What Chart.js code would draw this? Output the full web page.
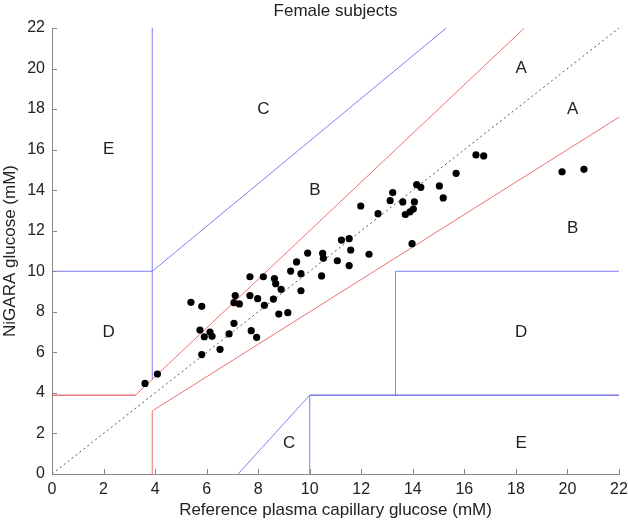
<!DOCTYPE html>
<html>
<head>
<meta charset="utf-8">
<script src="https://cdn.jsdelivr.net/npm/chart.js@4.4.1/dist/chart.umd.min.js"></script>
<style>
  html, body { margin: 0; padding: 0; background: #fff; }
  #wrap { width: 628px; height: 521px; }
</style>
</head>
<body>
<div id="wrap"><canvas id="egaChart" width="628" height="521"></canvas></div>
<script>
// measured points (reference vs NiGARA), mM
const refGlucose = [3.61, 4.09, 5.39, 5.81, 5.74, 5.91, 6.13, 6.21, 5.81, 6.52, 6.87, 7.06, 7.11, 7.06, 7.27,
  7.68, 7.68, 7.73, 7.94, 7.98, 8.20, 8.24, 8.63, 8.68, 8.89, 8.59, 8.80, 9.15, 9.26, 9.49, 9.66, 9.66, 9.92,
  10.46, 10.50, 10.53, 11.07, 11.53, 11.59, 11.23, 11.53, 12.30, 11.98, 12.65, 13.12, 13.22, 13.61, 14.06,
  13.71, 13.89, 14.02, 13.97, 14.15, 14.31, 15.03, 15.18, 15.68, 16.45, 16.75, 19.79, 20.64];
const nigaraGlucose = [4.47, 4.93, 8.47, 8.27, 7.10, 6.77, 7.00, 6.79, 5.89, 6.15, 6.91, 7.43, 8.80, 8.45, 8.39,
  9.73, 8.80, 7.07, 6.74, 8.65, 9.73, 8.32, 9.64, 9.39, 9.11, 8.63, 7.89, 7.96, 10.01, 10.46, 9.88, 9.04, 10.90,
  9.77, 10.89, 10.64, 10.52, 10.28, 11.05, 11.54, 11.61, 10.84, 13.22, 12.84, 13.48, 13.88, 13.42, 13.42,
  12.80, 12.93, 13.07, 11.36, 14.27, 14.14, 14.21, 13.62, 14.83, 15.74, 15.69, 14.91, 15.03];

// zone boundaries (x list, y list)
const identityX = [0, 22], identityY = [0, 22];
const redFlatX = [0, 3.24], redFlatY = [3.89, 3.89];
const redUpperX = [3.24, 18.33], redUpperY = [3.89, 22];
const redLowerX = [3.89, 3.89, 22], redLowerY = [0, 3.11, 17.6];
const blueUpperX = [0, 3.89, 15.3], blueUpperY = [10, 10, 22];
const blueLeftX = [3.89, 3.89], blueLeftY = [4.67, 22];
const blueSlopeX = [7.22, 10], blueSlopeY = [0, 3.89];
const blueFlatX = [10, 22], blueFlatY = [3.89, 3.89];
const blueCEX = [10, 10], blueCEY = [0, 3.89];
const blueDX = [13.33, 13.33, 22], blueDY = [3.89, 10, 10];

const zoneNames = ['A', 'A', 'B', 'B', 'C', 'C', 'D', 'D', 'E', 'E'];
const zoneX = [18.2, 20.2, 10.2, 20.2, 8.2, 9.2, 2.2, 18.2, 2.2, 18.2];
const zoneY = [20, 18, 14, 12.1, 18, 1.5, 7, 7, 16, 1.5];

const tickVals = [0, 2, 4, 6, 8, 10, 12, 14, 16, 18, 20, 22];

const FONT = '"Liberation Sans", Arial, sans-serif';
const pts = (xs, ys) => xs.map((x, i) => ({ x, y: ys[i] }));

function boundary(xs, ys, color, dash) {
  return {
    data: pts(xs, ys),
    showLine: true,
    borderColor: color,
    backgroundColor: color,
    borderWidth: 1,
    borderDash: dash || [],
    pointRadius: 0,
    fill: false
  };
}

const extras = {
  id: 'extras',
  afterDraw(chart) {
    const { ctx, scales: { x, y }, chartArea } = chart;
    ctx.save();
    // inward ticks
    ctx.strokeStyle = '#888';
    ctx.lineWidth = 1;
    tickVals.forEach(v => {
      const px = Math.round(x.getPixelForValue(v)) + 0.5;
      ctx.beginPath();
      ctx.moveTo(px, chartArea.bottom);
      ctx.lineTo(px, chartArea.bottom - 5);
      ctx.stroke();
      const py = Math.round(y.getPixelForValue(v)) + 0.5;
      ctx.beginPath();
      ctx.moveTo(chartArea.left, py);
      ctx.lineTo(chartArea.left + 5, py);
      ctx.stroke();
    });
    // zone letters
    ctx.fillStyle = '#222';
    ctx.font = '17px ' + FONT;
    ctx.textAlign = 'center';
    ctx.textBaseline = 'middle';
    zoneNames.forEach((t, i) => {
      ctx.fillText(t, x.getPixelForValue(zoneX[i]), y.getPixelForValue(zoneY[i]));
    });
    // title
    ctx.fillText('Female subjects', (chartArea.left + chartArea.right) / 2, 11);
    ctx.restore();
  }
};

new Chart(document.getElementById('egaChart'), {
  type: 'scatter',
  data: {
    datasets: [
      {
        data: pts(refGlucose, nigaraGlucose),
        pointRadius: 3.6,
        pointBackgroundColor: '#000',
        pointBorderColor: '#000',
        pointBorderWidth: 0,
        showLine: false
      },
      boundary(identityX, identityY, '#555', [2, 3]),
      boundary(redFlatX, redFlatY, '#d83838'),
      boundary(redUpperX, redUpperY, '#f07070'),
      boundary(redLowerX, redLowerY, '#f07070'),
      boundary(blueUpperX, blueUpperY, '#7f7ff5'),
      boundary(blueLeftX, blueLeftY, '#7f7ff5'),
      boundary(blueSlopeX, blueSlopeY, '#7f7ff5'),
      boundary(blueFlatX, blueFlatY, '#3a3ad0'),
      boundary(blueCEX, blueCEY, '#7f7ff5'),
      boundary(blueDX, blueDY, '#7f7ff5')
    ]
  },
  options: {
    responsive: false,
    animation: false,
    layout: { autoPadding: false, padding: { top: 28, right: 9, left: 0, bottom: 0 } },
    plugins: { legend: { display: false }, tooltip: { enabled: false } },
    scales: {
      x: {
        type: 'linear', min: 0, max: 22,
        ticks: { stepSize: 2, color: '#222', font: { size: 16, family: FONT }, padding: 6, maxRotation: 0 },
        grid: { display: true, drawOnChartArea: false, drawTicks: false },
        border: { display: true, color: '#888' },
        title: { display: true, text: 'Reference plasma capillary glucose (mM)', color: '#222', font: { size: 17, family: FONT }, padding: { top: 1, bottom: 0 } },
        afterFit: s => { s.height = 47; s.paddingRight = 9; s.paddingLeft = 0; }
      },
      y: {
        type: 'linear', min: 0, max: 22,
        ticks: { stepSize: 2, color: '#222', font: { size: 16, family: FONT }, padding: 7 },
        grid: { display: true, drawOnChartArea: false, drawTicks: false },
        border: { display: true, color: '#888' },
        title: { display: true, text: 'NiGARA glucose (mM)', color: '#222', font: { size: 17, family: FONT }, padding: { top: 0, bottom: 2 } },
        afterFit: s => { s.width = 52; }
      }
    }
  },
  plugins: [extras]
});
</script>
</body>
</html>
